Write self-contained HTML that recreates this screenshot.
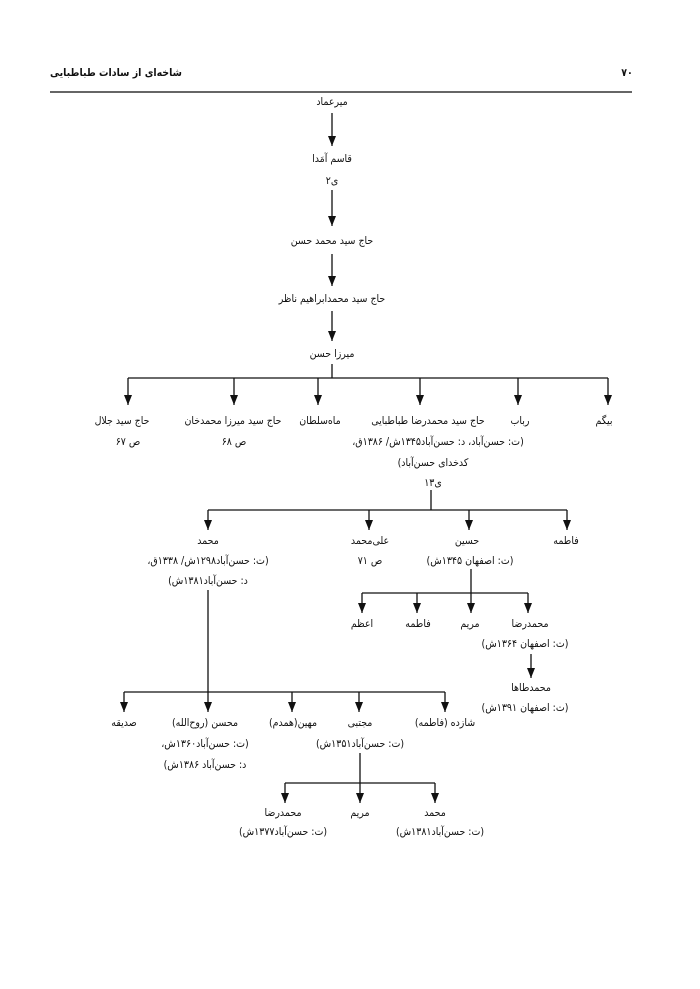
<!DOCTYPE html>
<html><head><meta charset="utf-8"><style>
html,body{margin:0;padding:0;background:#fff;}
svg{display:block;}
text{font-family:"DejaVu Sans Condensed","DejaVu Sans",sans-serif;font-size:10.5px;fill:#111;}
</style></head><body>
<svg width="700" height="989" viewBox="0 0 700 989" xmlns="http://www.w3.org/2000/svg">
<defs>
<marker id="b" viewBox="0 0 8 10" markerWidth="8" markerHeight="10" refX="4" refY="10" orient="0" markerUnits="userSpaceOnUse"><path d="M0,0 L8,0 L4,10 Z" fill="#111"/></marker></defs>
<g stroke="#111" stroke-width="1.3" fill="none">
<line x1="50" y1="92" x2="632" y2="92" stroke="#666" stroke-width="2"/>
<line x1="332" y1="113" x2="332" y2="146" marker-end="url(#b)"/>
<line x1="332" y1="190" x2="332" y2="226" marker-end="url(#b)"/>
<line x1="332" y1="254" x2="332" y2="286" marker-end="url(#b)"/>
<line x1="332" y1="311" x2="332" y2="341" marker-end="url(#b)"/>
<line x1="332" y1="364" x2="332" y2="378"/>
<line x1="128" y1="378" x2="608" y2="378"/>
<line x1="128" y1="378" x2="128" y2="405" marker-end="url(#b)"/>
<line x1="234" y1="378" x2="234" y2="405" marker-end="url(#b)"/>
<line x1="318" y1="378" x2="318" y2="405" marker-end="url(#b)"/>
<line x1="420" y1="378" x2="420" y2="405" marker-end="url(#b)"/>
<line x1="518" y1="378" x2="518" y2="405" marker-end="url(#b)"/>
<line x1="608" y1="378" x2="608" y2="405" marker-end="url(#b)"/>
<line x1="431" y1="490" x2="431" y2="510"/>
<line x1="208" y1="510" x2="567" y2="510"/>
<line x1="208" y1="510" x2="208" y2="530" marker-end="url(#b)"/>
<line x1="369" y1="510" x2="369" y2="530" marker-end="url(#b)"/>
<line x1="469" y1="510" x2="469" y2="530" marker-end="url(#b)"/>
<line x1="567" y1="510" x2="567" y2="530" marker-end="url(#b)"/>
<line x1="471" y1="569" x2="471" y2="593"/>
<line x1="362" y1="593" x2="528" y2="593"/>
<line x1="362" y1="593" x2="362" y2="613" marker-end="url(#b)"/>
<line x1="417" y1="593" x2="417" y2="613" marker-end="url(#b)"/>
<line x1="471" y1="593" x2="471" y2="613" marker-end="url(#b)"/>
<line x1="528" y1="593" x2="528" y2="613" marker-end="url(#b)"/>
<line x1="531" y1="654" x2="531" y2="678" marker-end="url(#b)"/>
<line x1="208" y1="590" x2="208" y2="692"/>
<line x1="124" y1="692" x2="445" y2="692"/>
<line x1="124" y1="692" x2="124" y2="712" marker-end="url(#b)"/>
<line x1="208" y1="692" x2="208" y2="712" marker-end="url(#b)"/>
<line x1="292" y1="692" x2="292" y2="712" marker-end="url(#b)"/>
<line x1="359" y1="692" x2="359" y2="712" marker-end="url(#b)"/>
<line x1="445" y1="692" x2="445" y2="712" marker-end="url(#b)"/>
<line x1="360" y1="753" x2="360" y2="783"/>
<line x1="285" y1="783" x2="435" y2="783"/>
<line x1="285" y1="783" x2="285" y2="803" marker-end="url(#b)"/>
<line x1="360" y1="783" x2="360" y2="803" marker-end="url(#b)"/>
<line x1="435" y1="783" x2="435" y2="803" marker-end="url(#b)"/>
</g>
<g text-anchor="middle" direction="rtl">
<text x="116" y="76" font-weight="bold" font-size="12">شاخه‌ای از سادات طباطبایی</text>
<text x="627" y="76" font-weight="bold" font-size="12">۷۰</text>
<text x="332" y="105">میرعماد</text>
<text x="332" y="162">قاسم آمَدا</text>
<text x="332" y="184">ی۲</text>
<text x="332" y="244">حاج سید محمد حسن</text>
<text x="332" y="302">حاج سید محمدابراهیم ناظر</text>
<text x="332" y="357">میرزا حسن</text>

<text x="604" y="424">بیگم</text>
<text x="520" y="424">رباب</text>
<text x="428" y="424">حاج سید محمدرضا طباطبایی</text>
<text x="320" y="424">ماه‌سلطان</text>
<text x="233" y="424">حاج سید میرزا محمدخان</text>
<text x="122" y="424">حاج سید جلال</text>
<text x="438" y="445">(ت: حسن‌آباد، د: حسن‌آباد۱۳۴۵ش/ ۱۳۸۶ق،</text>
<text x="234" y="445">ص ۶۸</text>
<text x="128" y="445">ص ۶۷</text>
<text x="433" y="466">کدخدای حسن‌آباد)</text>
<text x="433" y="486">ی۱۳</text>

<text x="566" y="544">فاطمه</text>
<text x="467" y="544">حسین</text>
<text x="370" y="544">علی‌محمد</text>
<text x="208" y="544">محمد</text>
<text x="470" y="564">(ت: اصفهان ۱۳۴۵ش)</text>
<text x="370" y="564">ص ۷۱</text>
<text x="208" y="564">(ت: حسن‌آباد۱۲۹۸ش/ ۱۳۳۸ق،</text>
<text x="208" y="584">د: حسن‌آباد۱۳۸۱ش)</text>

<text x="530" y="627">محمدرضا</text>
<text x="470" y="627">مریم</text>
<text x="418" y="627">فاطمه</text>
<text x="362" y="627">اعظم</text>
<text x="525" y="647">(ت: اصفهان ۱۳۶۴ش)</text>
<text x="531" y="691">محمدطاها</text>
<text x="525" y="711">(ت: اصفهان ۱۳۹۱ش)</text>

<text x="445" y="726">شازده (فاطمه)</text>
<text x="360" y="726">مجتبی</text>
<text x="293" y="726">مهین(همدم)</text>
<text x="205" y="726">محسن (روح‌الله)</text>
<text x="124" y="726">صدیقه</text>
<text x="360" y="747">(ت: حسن‌آباد۱۳۵۱ش)</text>
<text x="205" y="747">(ت: حسن‌آباد۱۳۶۰ش،</text>
<text x="205" y="768">د: حسن‌آباد ۱۳۸۶ش)</text>

<text x="435" y="816">محمد</text>
<text x="360" y="816">مریم</text>
<text x="283" y="816">محمدرضا</text>
<text x="440" y="835">(ت: حسن‌آباد۱۳۸۱ش)</text>
<text x="283" y="835">(ت: حسن‌آباد۱۳۷۷ش)</text>
</g>
</svg>
</body></html>
